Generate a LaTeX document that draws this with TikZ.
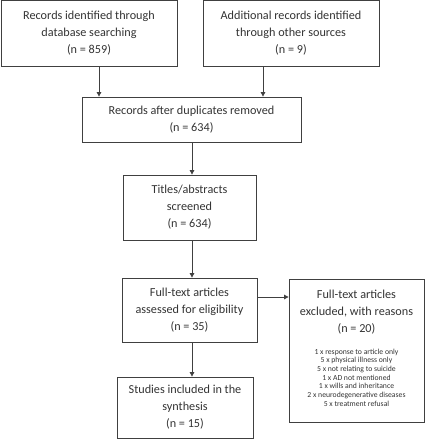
\documentclass[tikz,border=0pt]{standalone}
\usepackage{fontspec}
\setmainfont{Carlito}
\usetikzlibrary{arrows.meta}
\begin{document}
\begin{tikzpicture}[x=1pt,y=-1pt,
  box/.style={draw=black!75, line width=0.8pt, inner sep=0pt, align=center,
    font=\fontsize{12.2}{17}\selectfont, text=black!80},
  arr/.style={draw=black!75, line width=0.8pt, -{Triangle[length=4.5pt,width=4.5pt]}},
  small/.style={inner sep=0pt, align=center, font=\fontsize{7.7}{8.7}\selectfont, text=black!80},
  title/.style={inner sep=0pt, align=center, font=\fontsize{12.2}{17}\selectfont, text=black!80}]
\useasboundingbox (0,0) rectangle (425,440);
\node[box, minimum width=176, minimum height=66] (b1) at (89,33) {Records identified through\\database searching\\(n = 859)};
\node[box, minimum width=176, minimum height=66] (b2) at (291,33) {Additional records identified\\through other sources\\(n = 9)};
\node[box, minimum width=219, minimum height=45] (b3) at (191.5,119.5) {Records after duplicates removed\\(n = 634)};
\node[box, minimum width=133, minimum height=65] (b4) at (189.5,207.5) {Titles/abstracts\\screened\\(n = 634)};
\node[box, minimum width=135, minimum height=64] (b5) at (189.5,310) {Full-text articles\\assessed for eligibility\\(n = 35)};
\node[box, minimum width=136, minimum height=61] (b6) at (185,407.5) {Studies included in the\\synthesis\\(n = 15)};
\node[box, minimum width=135, minimum height=143] (b7) at (356.5,350.5) {};
\node[title] (b7t) at (356.5,312) {Full-text articles\\excluded, with reasons\\(n = 20)};
\node[small] (b7l) at (356.5,377.5) {1 x response to article only\\5 x physical illness only\\5 x not relating to suicide\\1 x AD not mentioned\\1 x wills and inheritance\\2 x neurodegenerative diseases\\5 x treatment refusal};
\coordinate (xa) at (99,0);
\coordinate (xb) at (263,0);
\coordinate (xc) at (192,0);
\coordinate (yr) at (0,297);
\draw[arr] (b1.south -| xa) -- (b3.north -| xa);
\draw[arr] (b2.south -| xb) -- (b3.north -| xb);
\draw[arr] (b3.south -| xc) -- (b4.north -| xc);
\draw[arr] (b4.south -| xc) -- (b5.north -| xc);
\draw[arr] (b5.south -| xc) -- (b6.north -| xc);
\draw[arr] (b5.east |- yr) -- (b7.west |- yr);
\end{tikzpicture}
\end{document}
